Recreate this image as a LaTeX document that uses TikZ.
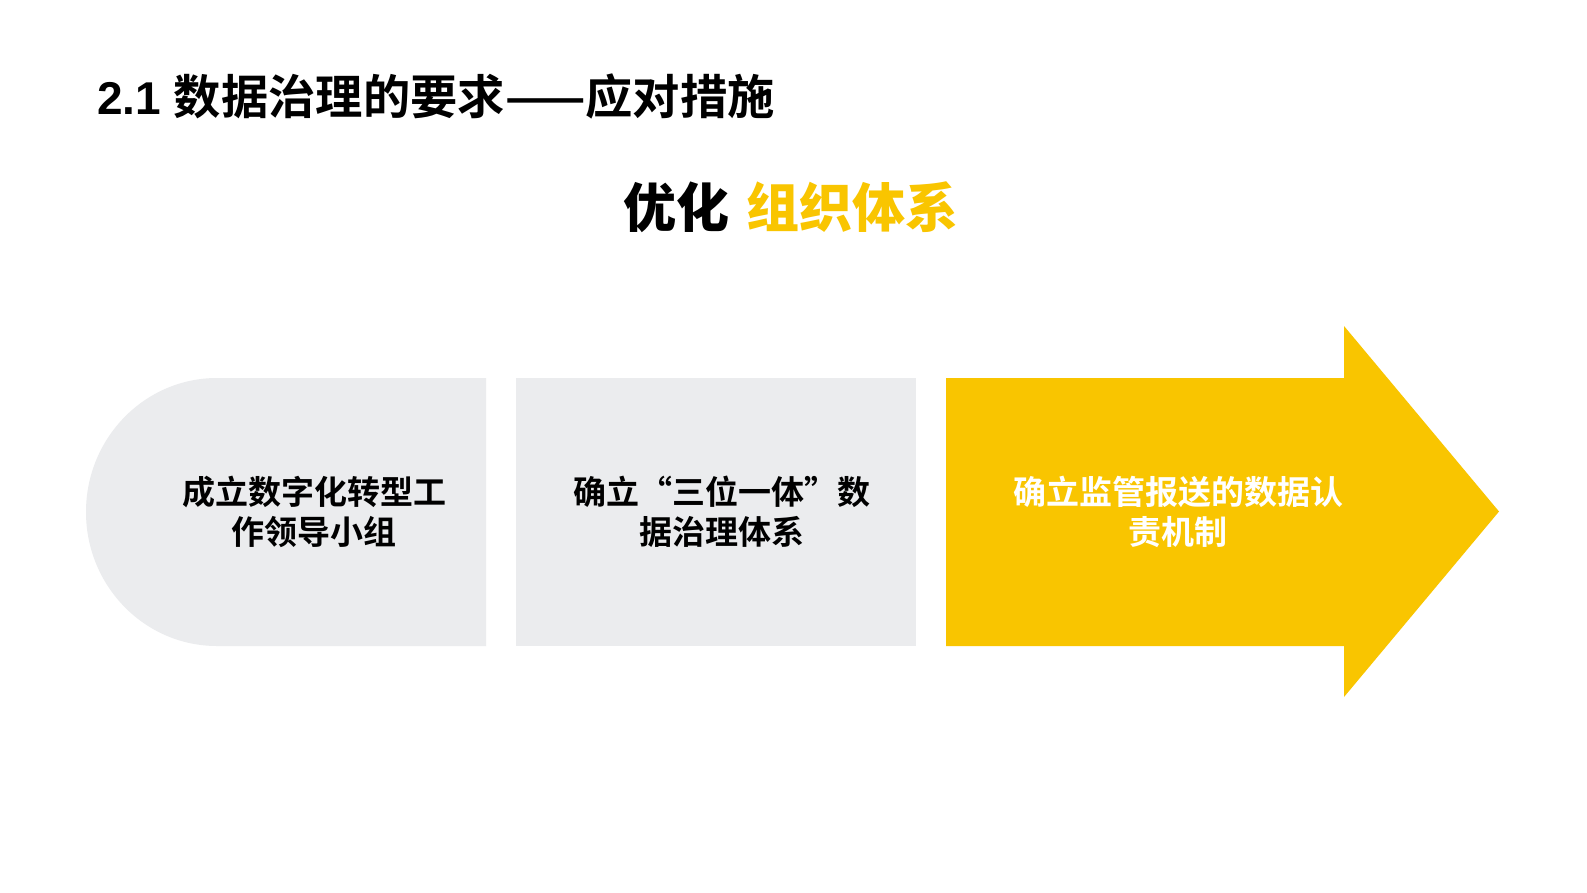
\documentclass[tikz,border=0pt]{standalone}
\usepackage{fontspec}
\setmainfont{Liberation Sans}
\newfontfamily\cjk{Noto Sans CJK SC}[BoldFont={* Bold}]
\newfontfamily\cjkblack{Noto Sans CJK SC Black}
\definecolor{boxgray}{HTML}{EBECEE}
\definecolor{accent}{HTML}{F9C500}
\begin{document}
\begin{tikzpicture}[x=1pt,y=-1pt,
  boxtext/.style={inner sep=0pt, align=center, font=\cjk\bfseries\fontsize{33}{40}\selectfont},
  headtext/.style={inner sep=0pt, font=\cjkblack\fontsize{53}{60}\selectfont}]
\path[fill=white] (0,0) rectangle (1587,892);
% title
\node[anchor=west, inner sep=0pt] (title) at (97,96)
  {\fontsize{46}{52}\selectfont\bfseries 2.1 {\cjkblack\fontsize{47.3}{52}\selectfont 数据治理的要求——应对措施}};
% heading
\node[headtext, anchor=east] (h1) at (730,207) {优化};
\node[headtext, anchor=west, text=accent] (h2) at (746,207) {组织体系};
% shapes
\path[fill=boxgray] (486,378) -- (217,378)
  arc[start angle=270, end angle=90, x radius=131, y radius=134]
  -- (486,646) -- cycle;
\path[fill=boxgray] (516,378) rectangle (916,646);
\path[fill=accent] (946,378) -- (1344,378) -- (1344,326) -- (1499,511.5)
  -- (1344,697) -- (1344,646) -- (946,646) -- cycle;
% texts
\node[boxtext] (t1) at (314,512) {成立数字化转型工\\作领导小组};
\node[boxtext] (t2) at (722,512) {确立“三位一体”数\\据治理体系};
\node[boxtext, text=white] (t3) at (1178,512) {确立监管报送的数据认\\责机制};
\end{tikzpicture}
\end{document}
